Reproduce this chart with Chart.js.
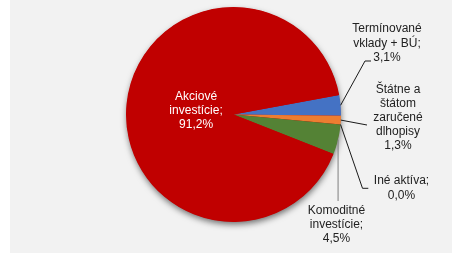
<!DOCTYPE html>
<html><head><meta charset="utf-8">
<script src="https://cdn.jsdelivr.net/npm/chart.js@4.4.1/dist/chart.umd.min.js"></script>
<style>html,body{margin:0;padding:0;background:#fff;} #wrap{width:452px;height:255px;position:relative;}</style>
</head><body><div id="wrap"><canvas id="c" width="452" height="255"></canvas></div>
<script>
const categories = ['Termínované vklady + BÚ', 'Štátne a štátom zaručené dlhopisy', 'Iné aktíva', 'Komoditné investície', 'Akciové investície'];
const values = [3.1, 1.3, 0.0, 4.5, 91.2];
const colors = ['#4472C4', '#ED7D31', '#A5A5A5', '#548235', '#C00000'];
const labelLines = [
  ['Termínované', 'vklady + BÚ;'],
  ['Štátne a', 'štátom', 'zaručené', 'dlhopisy'],
  ['Iné aktíva;'],
  ['Komoditné', 'investície;'],
  ['Akciové', 'investície;']
];
function fmt(v) { return v.toFixed(1).replace('.', ',') + '%'; }

const labelLayout = [
  { x: 387, y: 29, lead: [[365, 61], [371, 61]], lineColor: '#1a1a1a', color: '#222' },
  { x: 398, y: 89.3, lead: [[367, 125]], lineColor: '#1a1a1a', color: '#222' },
  { x: 401.5, y: 181, lead: [[362.5, 188.3], [368.3, 188.3]], lineColor: '#1a1a1a', color: '#222' },
  { x: 336.5, y: 210.7, lead: [[339, 201]], lineColor: '#7f7f7f', color: '#222', vertical: true },
  { inside: 0.35, color: '#ffffff' }
];
const LH = 14.2;
const FONT = '12px "Liberation Sans", Arial, sans-serif';

const bgPlugin = {
  id: 'bg',
  beforeDraw(chart) {
    const ctx = chart.ctx;
    ctx.save();
    ctx.fillStyle = '#ffffff';
    ctx.fillRect(0, 0, chart.width, chart.height);
    ctx.fillStyle = '#f2f2f2';
    ctx.fillRect(10, 0, chart.width - 10, 253);
    ctx.restore();
  }
};

const shadowPlugin = {
  id: 'pieShadow',
  beforeDatasetsDraw(chart) {
    const el = chart.getDatasetMeta(0).data[0];
    if (!el) return;
    const ctx = chart.ctx;
    ctx.save();
    ctx.shadowColor = 'rgba(0,0,0,0.55)';
    ctx.shadowBlur = 6;
    ctx.shadowOffsetX = 0.5;
    ctx.shadowOffsetY = 3;
    ctx.fillStyle = '#C00000';
    ctx.beginPath();
    ctx.arc(el.x, el.y, el.outerRadius - 0.5, 0, Math.PI * 2);
    ctx.fill();
    ctx.restore();
  }
};

const labelPlugin = {
  id: 'pieLabels',
  afterDatasetsDraw(chart) {
    const ctx = chart.ctx;
    const meta = chart.getDatasetMeta(0);
    ctx.save();
    ctx.font = FONT;
    ctx.textAlign = 'center';
    ctx.textBaseline = 'middle';
    meta.data.forEach((el, i) => {
      const cfg = labelLayout[i];
      const mid = (el.startAngle + el.endAngle) / 2;
      const lines = labelLines[i].concat([fmt(values[i])]);
      let lx, ly;
      if (cfg.inside) {
        const r = el.outerRadius * cfg.inside;
        lx = el.x + Math.cos(mid) * r;
        ly = el.y + Math.sin(mid) * r - LH;
      } else {
        lx = cfg.x; ly = cfg.y;
        const sx = el.x + Math.cos(mid) * el.outerRadius;
        const sy = el.y + Math.sin(mid) * el.outerRadius;
        ctx.strokeStyle = cfg.lineColor;
        ctx.lineWidth = 1;
        ctx.beginPath();
        ctx.moveTo(sx, sy);
        cfg.lead.forEach((p, k) => {
          const px = (cfg.vertical && k === 0) ? sx : p[0];
          ctx.lineTo(px, p[1]);
        });
        ctx.stroke();
      }
      ctx.fillStyle = cfg.color;
      lines.forEach((t, k) => ctx.fillText(t, lx, ly + k * LH));
    });
    ctx.restore();
  }
};

new Chart(document.getElementById('c'), {
  type: 'pie',
  data: {
    labels: categories,
    datasets: [{ data: values, backgroundColor: colors, borderWidth: 0 }]
  },
  options: {
    responsive: false,
    devicePixelRatio: 1,
    animation: false,
    rotation: 79.5,
    layout: { padding: { top: 7, bottom: 33, left: 126, right: 111 } },
    plugins: { legend: { display: false }, tooltip: { enabled: false } }
  },
  plugins: [bgPlugin, shadowPlugin, labelPlugin]
});
</script>
</body></html>
